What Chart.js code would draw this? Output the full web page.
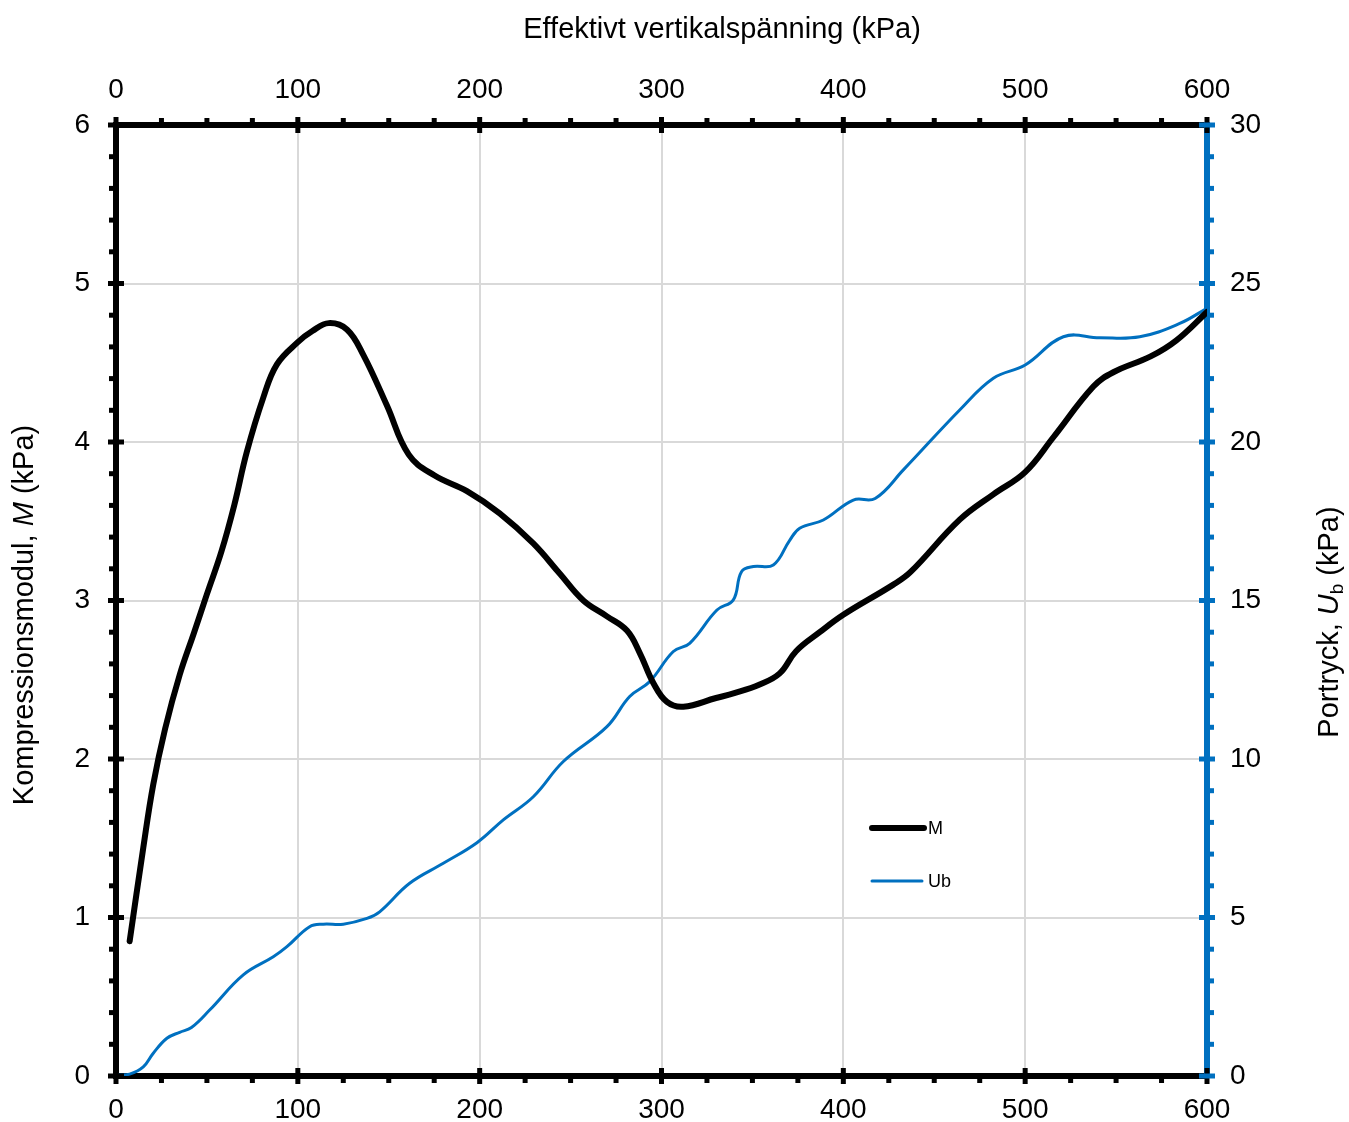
<!DOCTYPE html>
<html>
<head>
<meta charset="utf-8">
<script src="https://cdn.jsdelivr.net/npm/chart.js@4.4.1/dist/chart.umd.min.js"></script>
<style>
  html, body { margin: 0; padding: 0; background: #fff; }
  #wrap { width: 1349px; height: 1122px; }
</style>
</head>
<body>
<div id="wrap"><canvas id="chart" width="1349" height="1122"></canvas></div>
<script>
// Kompressionsmodul M (kPa) mot effektiv vertikalspänning (kPa)
const mStress = [7.5, 15, 20.5, 27, 35, 43, 50, 58, 65, 72, 81, 88.5, 100, 108, 117, 127, 136, 149, 161, 175, 193, 211,
  229.5, 244, 257, 270, 281, 288, 295.5, 303, 312, 330, 340, 354, 365, 374, 387, 400, 427.5, 437, 464, 482.5,
  500, 515.5, 537.5, 548.5, 569, 583, 600];
const mValues = [0.85, 1.44, 1.84, 2.19, 2.53, 2.80, 3.04, 3.31, 3.60, 3.94, 4.28, 4.49, 4.63, 4.70, 4.75, 4.71, 4.55, 4.23, 3.92, 3.79, 3.69, 3.55,
  3.36, 3.17, 3.0, 2.90, 2.81, 2.67, 2.48, 2.36, 2.33, 2.385, 2.415, 2.47, 2.54, 2.68, 2.80, 2.91, 3.10, 3.18, 3.51, 3.67,
  3.81, 4.03, 4.35, 4.44, 4.54, 4.64, 4.82];

// Portryck Ub (kPa)
const ubStress = [1, 7.5, 15, 20.5, 28, 35, 41.5, 51.5, 70, 86.5, 94, 106.5, 114, 125, 138, 145, 161.5, 180, 198.5, 213,
  229.5, 246, 270, 282.5, 293.5, 306.5, 315.5, 330.5, 339.5, 344, 350.5, 361.5, 370.5, 376, 389, 405.5, 417.5, 433,
  464, 482.5, 500, 521, 541, 563, 585, 600];
const ubValues = [0.03, 0.06, 0.29, 0.72, 1.19, 1.38, 1.53, 2.08, 3.19, 3.76, 4.08, 4.71, 4.79, 4.79, 4.97, 5.18, 6.08, 6.71, 7.36, 8.08,
  8.81, 9.92, 11.02, 11.97, 12.44, 13.39, 13.65, 14.7, 15.02, 15.91, 16.07, 16.12, 16.9, 17.28, 17.54, 18.17, 18.22, 19.12,
  21.01, 22.01, 22.43, 23.32, 23.29, 23.32, 23.74, 24.22];

const stressTicks = [0, 100, 200, 300, 400, 500, 600];
const mTicks = [0, 1, 2, 3, 4, 5, 6];
const ubTicks = [0, 5, 10, 15, 20, 25, 30];

const BLUE = '#0070C0';
const FONT = "'Liberation Sans', Arial, sans-serif";

const toPoints = (xs, ys) => xs.map((x, i) => ({ x: x, y: ys[i] }));

// tick marks: major ones cross the axis line, minor ones sit outside
const axisTicks = {
  id: 'axisTicks',
  afterDraw(chart) {
    const ctx = chart.ctx;
    const a = chart.chartArea;
    const s = chart.scales;
    ctx.save();
    ctx.lineWidth = 5;
    ctx.lineCap = 'butt';

    function mark(color, x1, y1, x2, y2) {
      ctx.strokeStyle = color;
      ctx.beginPath();
      ctx.moveTo(x1, y1);
      ctx.lineTo(x2, y2);
      ctx.stroke();
    }

    for (let v = 0; v <= 600; v += 25) {
      const px = s.x.getPixelForValue(v);
      if (v % 100 === 0) {
        mark('#000', px, a.bottom - 8, px, a.bottom + 8);
        mark('#000', px, a.top - 8, px, a.top + 8);
      } else {
        mark('#000', px, a.bottom, px, a.bottom + 7);
        mark('#000', px, a.top - 7, px, a.top);
      }
    }
    for (let i = 0; i <= 30; i++) {
      const py = s.y.getPixelForValue(i * 0.2);
      if (i % 5 === 0) mark('#000', a.left - 8, py, a.left + 8, py);
      else mark('#000', a.left - 7, py, a.left, py);
    }
    for (let v = 0; v <= 30; v++) {
      const py = s.y2.getPixelForValue(v);
      if (v % 5 === 0) mark(BLUE, a.right - 8, py, a.right + 8, py);
      else mark(BLUE, a.right, py, a.right + 7, py);
    }
    ctx.restore();
  }
};

function drawRich(ctx, parts, cx, cy, rotate) {
  ctx.save();
  ctx.translate(cx, cy);
  if (rotate) ctx.rotate(-Math.PI / 2);
  ctx.fillStyle = '#000';
  ctx.textBaseline = 'middle';
  ctx.textAlign = 'left';
  let total = 0;
  parts.forEach(p => { ctx.font = p.font; total += ctx.measureText(p.text).width; });
  let x = -total / 2;
  parts.forEach(p => {
    ctx.font = p.font;
    ctx.fillText(p.text, x, p.dy || 0);
    x += ctx.measureText(p.text).width;
  });
  ctx.restore();
}

const axisTitles = {
  id: 'axisTitles',
  afterDraw(chart) {
    const ctx = chart.ctx;
    const n = '29px ' + FONT;
    const it = 'italic 29px ' + FONT;
    drawRich(ctx, [{ text: 'Effektivt vertikalspänning (kPa)', font: n }], 722, 30, false);
    drawRich(ctx, [
      { text: 'Kompressionsmodul, ', font: n },
      { text: 'M', font: it },
      { text: ' (kPa)', font: n }
    ], 25, 615, true);
    drawRich(ctx, [
      { text: 'Portryck, ', font: n },
      { text: 'U', font: it },
      { text: 'b', font: '19px ' + FONT, dy: 8 },
      { text: ' (kPa)', font: n }
    ], 1330, 622, true);
  }
};

// small legend inside the plot
const innerLegend = {
  id: 'innerLegend',
  afterDatasetsDraw(chart) {
    const ctx = chart.ctx;
    const rows = [{ y: 828, x2: 924 }, { y: 881, x2: 922 }];
    ctx.save();
    chart.data.datasets.forEach((ds, i) => {
      const r = rows[i];
      ctx.strokeStyle = ds.borderColor;
      ctx.lineWidth = ds.borderWidth;
      ctx.lineCap = 'round';
      ctx.beginPath();
      ctx.moveTo(872, r.y);
      ctx.lineTo(r.x2, r.y);
      ctx.stroke();
      ctx.fillStyle = '#000';
      ctx.font = '18px ' + FONT;
      ctx.textBaseline = 'middle';
      ctx.textAlign = 'left';
      ctx.fillText(ds.label, 928, r.y + 1);
    });
    ctx.restore();
  }
};

const tickFont = { family: FONT, size: 28 };

new Chart(document.getElementById('chart'), {
  type: 'line',
  data: {
    datasets: [
      {
        label: 'M',
        data: toPoints(mStress, mValues),
        borderColor: '#000',
        borderWidth: 6,
        borderCapStyle: 'round',
        borderJoinStyle: 'round',
        pointRadius: 0,
        tension: 0.4,
        yAxisID: 'y',
        xAxisID: 'x'
      },
      {
        label: 'Ub',
        data: toPoints(ubStress, ubValues),
        borderColor: BLUE,
        borderWidth: 3,
        pointRadius: 0,
        tension: 0.4,
        yAxisID: 'y2',
        xAxisID: 'x'
      }
    ]
  },
  options: {
    responsive: false,
    animation: false,
    devicePixelRatio: 1,
    layout: { padding: 0 },
    plugins: { legend: { display: false }, tooltip: { enabled: false } },
    scales: {
      x: {
        type: 'linear', position: 'bottom', min: 0, max: 600,
        afterBuildTicks: s => { s.ticks = stressTicks.map(v => ({ value: v })); },
        afterFit: s => { s.height = 46; },
        ticks: { color: '#000', font: tickFont, padding: 17, maxRotation: 0 },
        grid: { color: '#d9d9d9', lineWidth: 2, drawTicks: false },
        border: { color: '#000', width: 6 }
      },
      x2: {
        type: 'linear', position: 'top', min: 0, max: 600,
        afterBuildTicks: s => { s.ticks = stressTicks.map(v => ({ value: v })); },
        afterFit: s => { s.height = 125; },
        ticks: { color: '#000', font: tickFont, padding: 18, maxRotation: 0 },
        grid: { display: false, drawTicks: false },
        border: { color: '#000', width: 6 }
      },
      y: {
        type: 'linear', position: 'left', min: 0, max: 6,
        afterBuildTicks: s => { s.ticks = mTicks.map(v => ({ value: v })); },
        afterFit: s => { s.width = 116; },
        ticks: { color: '#000', font: tickFont, padding: 26 },
        grid: { color: '#d9d9d9', lineWidth: 2, drawTicks: false },
        border: { color: '#000', width: 6 }
      },
      y2: {
        type: 'linear', position: 'right', min: 0, max: 30,
        afterBuildTicks: s => { s.ticks = ubTicks.map(v => ({ value: v })); },
        afterFit: s => { s.width = 142; },
        ticks: { color: '#000', font: tickFont, padding: 23 },
        grid: { display: false, drawTicks: false },
        border: { color: BLUE, width: 6 }
      }
    }
  },
  plugins: [axisTicks, axisTitles, innerLegend]
});
</script>
</body>
</html>
